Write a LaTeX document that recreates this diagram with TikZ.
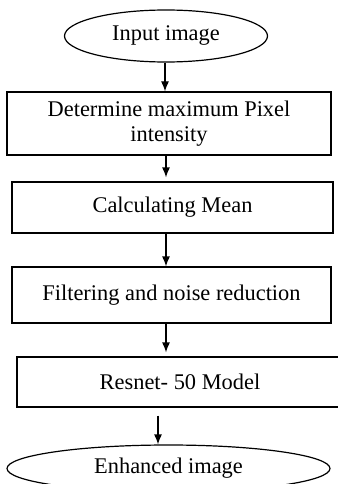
\documentclass[tikz,border=0pt]{standalone}
\usepackage{fontspec}
\setmainfont{Liberation Serif}
\usetikzlibrary{arrows,arrows.meta,shapes}
\newcommand{\boxlw}{1.2pt}
\newcommand{\txtsize}{\fontsize{22.4}{25}\selectfont}

\begin{document}
\begin{tikzpicture}[x=1pt,y=-1pt]
    \tikzset{stepbox/.style = {draw, rectangle, line width=\boxlw, inner sep=0pt, align=center, font=\txtsize},
             termnode/.style = {draw, ellipse, line width=\boxlw, inner sep=0pt, font=\txtsize},
             arr/.style = {-{Latex[length=10pt,width=8pt]}, line width=\boxlw}}
    %\draw[help lines] (0,0) grid[step=20pt] (337,484);
    \useasboundingbox (0,0) rectangle (337,484);
    \node[termnode, minimum width=203pt, minimum height=52pt] (input) at (166,36) {Input image};
    \node[stepbox, minimum width=324pt, minimum height=63pt] (maxpix) at (169,123.5) {Determine maximum Pixel\\intensity};
    \node[stepbox, minimum width=321pt, minimum height=51pt] (mean) at (172.5,207.5) {Calculating Mean};
    \node[stepbox, minimum width=319pt, minimum height=56pt] (filter) at (171.5,295) {Filtering and noise reduction};
    \node[stepbox, minimum width=326pt, minimum height=50pt] (resnet) at (180,382) {Resnet- 50 Model};
    \node[termnode, minimum width=323pt, minimum height=47pt] (output) at (168.5,468.5) {Enhanced image};
    % arrows between the steps
    \coordinate (a1) at (165,0);
    \coordinate (a2) at (166,0);
    \coordinate (a5) at (158,0);
    \draw[arr] (a1 |- input.south) -- (a1 |- maxpix.north);
    \draw[arr, shorten >=4pt] (a2 |- maxpix.south) -- (a2 |- mean.north);
    \draw[arr] (a2 |- mean.south) -- (a2 |- filter.north);
    \draw[arr, shorten >=4pt] (a2 |- filter.south) -- (a2 |- resnet.north);
    \draw[arr, shorten <=8pt] (a5 |- resnet.south) -- (a5 |- output.north);
\end{tikzpicture}
\end{document}
